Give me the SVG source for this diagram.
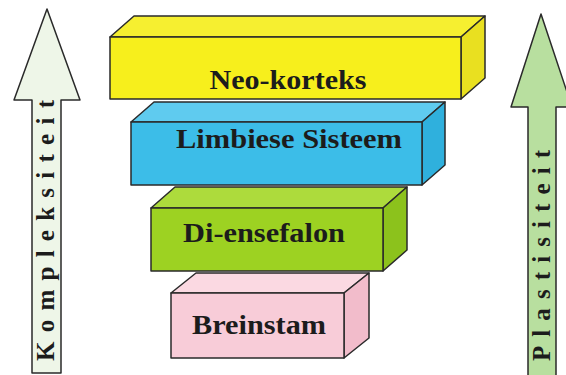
<svg xmlns="http://www.w3.org/2000/svg" width="566" height="375" viewBox="0 0 566 375">
<style>
.e{stroke:#2a2a2a;stroke-width:1.5;stroke-linejoin:round}
.t{font-family:"Liberation Serif","Times New Roman",serif;font-weight:bold;font-size:28px;fill:#1c1c1c;text-anchor:middle}
.v{font-family:"Liberation Serif","Times New Roman",serif;font-weight:bold;font-size:25px;fill:#1c1c1c}
</style>
<rect width="566" height="375" fill="#ffffff"/>
<g id="arrow-kompleksiteit">
<polygon class="e" fill="#eef6e8" points="47,9 80,100 61,100 61,373 32,373 32,100 14,100"/>
<text class="v" transform="translate(54,361) rotate(-90)" textLength="261" lengthAdjust="spacing">Kompleksiteit</text>
</g>
<g id="arrow-plastisiteit">
<polygon class="e" fill="#b8df9f" points="541,14 572,107 556,107 556,380 528,380 528,107 511,107"/>
<text class="v" transform="translate(550,361) rotate(-90)" textLength="211" lengthAdjust="spacing">Plastisiteit</text>
</g>
<g id="breinstam">
<polygon class="e" fill="#fbd9e2" points="171,293 196,273 369,273 344,293"/>
<polygon class="e" fill="#f2bccb" points="344,293 369,273 369,338 344,358"/>
<rect class="e" fill="#f8ccd8" x="171" y="293" width="173" height="65"/>
<text class="t" x="259" y="334" textLength="134" lengthAdjust="spacingAndGlyphs">Breinstam</text>
</g>
<g id="di-ensefalon">
<polygon class="e" fill="#addb3c" points="151,208 175,187 407,187 383,208"/>
<polygon class="e" fill="#8cc21c" points="383,208 407,187 407,250 383,271"/>
<rect class="e" fill="#9dd222" x="151" y="208" width="232" height="63"/>
<text class="t" x="264" y="242" textLength="162" lengthAdjust="spacingAndGlyphs">Di-ensefalon</text>
</g>
<g id="limbiese-sisteem">
<polygon class="e" fill="#5fcbef" points="131,122 154,102 445,102 422,122"/>
<polygon class="e" fill="#2fb0dd" points="422,122 445,102 445,165 422,185"/>
<rect class="e" fill="#3cbde8" x="131" y="122" width="291" height="63"/>
<text class="t" x="289" y="148" textLength="226" lengthAdjust="spacingAndGlyphs">Limbiese Sisteem</text>
</g>
<g id="neo-korteks">
<polygon class="e" fill="#f6ef30" points="110,37 134,16 485,16 461,37"/>
<polygon class="e" fill="#e9e020" points="461,37 485,16 485,78 461,99"/>
<rect class="e" fill="#f7ef1c" x="110" y="37" width="351" height="62"/>
<text class="t" x="288" y="89" textLength="157" lengthAdjust="spacingAndGlyphs">Neo-korteks</text>
</g>
<g id="connectors"></g>
</svg>
